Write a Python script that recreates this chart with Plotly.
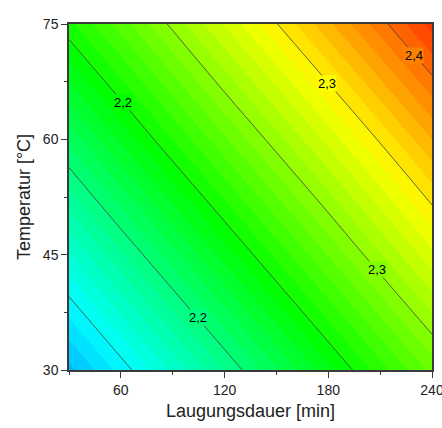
import colorsys
import numpy as np
import plotly.graph_objects as go

# ---- data ----
laugungsdauer = [30, 60, 120, 180, 240]          # x, min
temperatur = [30, 45, 60, 75]                    # y, °C
ausbeute = [                                     # z grid, rows = temperatur
    [2.097, 2.120, 2.167, 2.214, 2.261],
    [2.141, 2.165, 2.212, 2.259, 2.306],
    [2.186, 2.210, 2.257, 2.303, 2.350],
    [2.231, 2.254, 2.301, 2.348, 2.395],
]
line_levels = [2.125, 2.375, 0.05]               # start, end, step of contour lines
label_texts = ["2,2", "2,2", "2,3", "2,3", "2,4"]
label_x = [61.4, 104.9, 179.2, 208.2, 229.4]
label_y = [64.8, 36.8, 67.3, 43.1, 70.9]

# ---- style ----
ZMIN, ZMAX = 2.075, 2.425
HUE_MAX = 210.0
FONT = "Liberation Sans, Arial, sans-serif"
AXC = "#3a3a3a"


def hue_color(t):
    r, g, b = colorsys.hsv_to_rgb(HUE_MAX * (1 - t) / 360.0, 1.0, 1.0)
    return f"rgb({int(round(r*255))},{int(round(g*255))},{int(round(b*255))})"


colorscale = [[i / 40, hue_color(i / 40)] for i in range(41)]

fig = go.Figure()
fig.add_trace(go.Contour(
    x=laugungsdauer, y=temperatur, z=ausbeute,
    zmin=ZMIN, zmax=ZMAX, zauto=False,
    autocontour=False,
    contours=dict(start=ZMIN, end=ZMAX, size=0.05 / 6, coloring="fill", showlines=False),
    colorscale=colorscale, showscale=False, line=dict(width=0),
    hoverinfo="skip",
))
fig.add_trace(go.Contour(
    x=laugungsdauer, y=temperatur, z=ausbeute,
    autocontour=False,
    contours=dict(start=line_levels[0], end=line_levels[1], size=line_levels[2],
                  coloring="none", showlabels=False),
    line=dict(color="#404040", width=0.8),
    showscale=False, hoverinfo="skip",
))

# label backgrounds use the local fill colour
zg = np.array(ausbeute)
for txt, lx, ly in zip(label_texts, label_x, label_y):
    col_at_y = [np.interp(lx, laugungsdauer, row) for row in zg]
    zval = float(np.interp(ly, temperatur, col_at_y))
    t = min(max((zval - ZMIN) / (ZMAX - ZMIN), 0), 1)
    fig.add_annotation(x=lx, y=ly, xref="x", yref="y", text=txt, showarrow=False,
                       font=dict(family=FONT, size=13, color="black"),
                       bgcolor=hue_color(t), borderpad=0)

axis_common = dict(
    showgrid=False, zeroline=False, showline=True, linecolor=AXC, linewidth=1.5,
    mirror=True, ticks="outside", ticklen=6, tickwidth=1.2, tickcolor=AXC,
    tickfont=dict(family=FONT, size=14, color="#222"),
    ticklabeloverflow="allow",
)
fig.update_xaxes(
    range=[30, 240], tick0=0, dtick=60,
    minor=dict(tick0=0, dtick=30, ticks="outside", ticklen=3, tickwidth=1.2, tickcolor=AXC),
    title=dict(text="Laugungsdauer [min]", font=dict(family=FONT, size=18, color="#222"), standoff=8),
    **axis_common,
)
fig.update_yaxes(
    range=[30, 75], tick0=0, dtick=15,
    minor=dict(tick0=0, dtick=7.5, ticks="outside", ticklen=3, tickwidth=1.2, tickcolor=AXC),
    title=dict(text="Temperatur [°C]", font=dict(family=FONT, size=18, color="#222"), standoff=8),
    **axis_common,
)
fig.update_layout(
    width=442, height=428,
    margin=dict(l=69, r=10, t=24, b=58, autoexpand=False),
    paper_bgcolor="white", plot_bgcolor="white",
    showlegend=False,
)
fig.write_html("out.html")
